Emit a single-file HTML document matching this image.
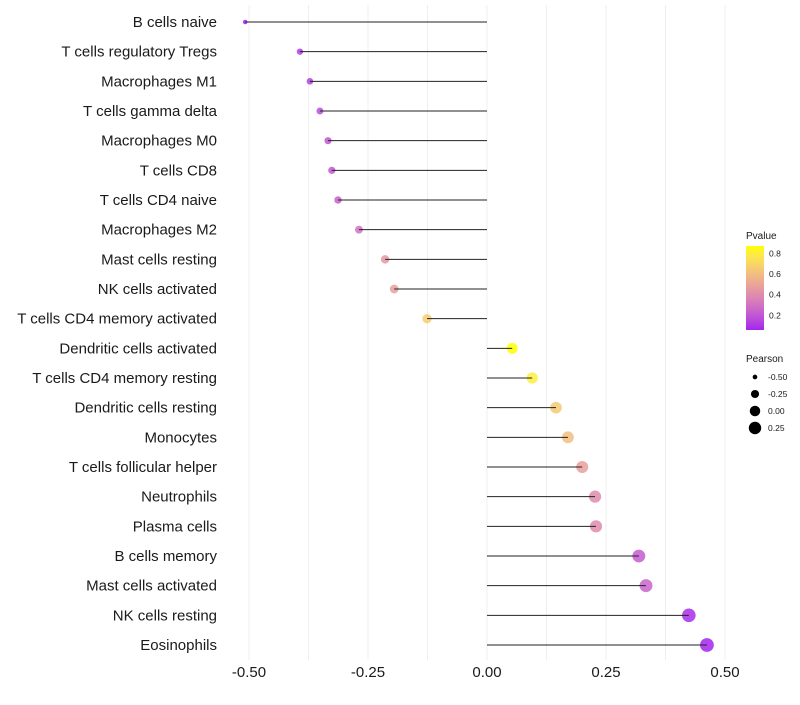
<!DOCTYPE html>
<html><head><meta charset="utf-8"><style>
body{margin:0;background:#fff;font-family:"Liberation Sans",sans-serif}
</style></head><body>
<svg id="c" width="800" height="700" xmlns="http://www.w3.org/2000/svg"></svg>
<script>
const categories=["B cells naive","T cells regulatory  Tregs","Macrophages M1","T cells gamma delta","Macrophages M0","T cells CD8","T cells CD4 naive","Macrophages M2","Mast cells resting","NK cells activated","T cells CD4 memory activated","Dendritic cells activated","T cells CD4 memory resting","Dendritic cells resting","Monocytes","T cells follicular helper","Neutrophils","Plasma cells","B cells memory","Mast cells activated","NK cells resting","Eosinophils"];
const pearson=[-0.508,-0.393,-0.372,-0.351,-0.334,-0.326,-0.313,-0.269,-0.214,-0.195,-0.126,0.053,0.095,0.145,0.170,0.200,0.227,0.229,0.319,0.334,0.424,0.462];
const pvalue=[0.05,0.12,0.13,0.17,0.2,0.2,0.23,0.3,0.45,0.48,0.67,0.87,0.8,0.65,0.6,0.48,0.4,0.4,0.22,0.25,0.08,0.06];
const xTicks=[-0.5,-0.25,0,0.25,0.5];
const xTickLabels=["-0.50","-0.25","0.00","0.25","0.50"];
const colorTicks=[0.2,0.4,0.6,0.8];
const sizeLegend=[-0.5,-0.25,0,0.25];
const sizeLegendLabels=["-0.50","-0.25","0.00","0.25"];

const svg=document.getElementById('c');
const NS="http://www.w3.org/2000/svg";
const x0=487,ppu=476;
const xs=v=>x0+v*ppu;
const ys=i=>22+i*29.667;
const rs=v=>Math.sqrt(5+(v+0.51)*44);
function mk(t,a,p){const e=document.createElementNS(NS,t);for(const k in a)e.setAttribute(k,a[k]);(p||svg).appendChild(e);return e;}
function toLab(r,g,b){const f=c=>{c/=255;return c>0.04045?Math.pow((c+0.055)/1.055,2.4):c/12.92};r=f(r);g=f(g);b=f(b);
let X=(r*0.4124+g*0.3576+b*0.1805)/0.95047,Y=r*0.2126+g*0.7152+b*0.0722,Z=(r*0.0193+g*0.1192+b*0.9505)/1.08883;
const h=t=>t>0.008856?Math.cbrt(t):7.787*t+16/116;X=h(X);Y=h(Y);Z=h(Z);return[116*Y-16,500*(X-Y),200*(Y-Z)];}
function fromLab(L,a,b){let Y=(L+16)/116,X=a/500+Y,Z=Y-b/200;const h=t=>t*t*t>0.008856?t*t*t:(t-16/116)/7.787;
X=h(X)*0.95047;Y=h(Y);Z=h(Z)*1.08883;let r=X*3.2406+Y*-1.5372+Z*-0.4986,g=X*-0.9689+Y*1.8758+Z*0.0415,bb=X*0.0557+Y*-0.2040+Z*1.0570;
const f=c=>{c=c>0.0031308?1.055*Math.pow(c,1/2.4)-0.055:12.92*c;return Math.round(Math.max(0,Math.min(1,c))*255)};return`rgb(${f(r)},${f(g)},${f(bb)})`;}
const lo=toLab(160,32,240),hi=toLab(255,255,0),pmin=0.05,pmax=0.87;
const col=p=>{const t=Math.max(0,Math.min(1,(p-pmin)/(pmax-pmin)));return fromLab(lo[0]+(hi[0]-lo[0])*t,lo[1]+(hi[1]-lo[1])*t,lo[2]+(hi[2]-lo[2])*t);};

for(let v=-0.5;v<=0.5001;v+=0.125){const g=mk('line',{x1:xs(v),x2:xs(v),y1:5,y2:660,stroke:'#efefef','stroke-width':1});
}
xTicks.forEach((v,i)=>{const t=mk('text',{x:xs(v),y:677,'text-anchor':'middle','font-size':15,fill:'#1a1a1a'});t.textContent=xTickLabels[i];
});
categories.forEach((c,i)=>{
const y=ys(i);
const t=mk('text',{x:217,y:y+5,'text-anchor':'end','font-size':15,fill:'#1a1a1a'});t.textContent=c;

const p=mk('circle',{cx:xs(pearson[i]),cy:y,r:rs(pearson[i]),fill:col(pvalue[i]),'fill-opacity':0.85});

const l=mk('line',{x1:xs(0),x2:xs(pearson[i]),y1:y,y2:y,stroke:'#222','stroke-width':1});

});
const lt=mk('text',{x:746,y:239,'font-size':10,fill:'#1a1a1a'});lt.textContent='Pvalue';

const defs=mk('defs',{});const gr=mk('linearGradient',{id:'gb',x1:0,y1:1,x2:0,y2:0},defs);
for(let k=0;k<=10;k++){mk('stop',{offset:k/10,'stop-color':col(0.06+(0.87-0.06)*k/10)},gr);}
const cb=mk('rect',{x:746,y:246,width:18,height:84,fill:'url(#gb)'});

const cy=p=>330-(p-0.06)/(0.87-0.06)*84;
colorTicks.forEach(p=>{const t=mk('text',{x:769,y:cy(p)+3,'font-size':8.5,fill:'#1a1a1a'});t.textContent=p.toFixed(1);
});
const st=mk('text',{x:746,y:362,'font-size':10,fill:'#1a1a1a'});st.textContent='Pearson';

sizeLegend.forEach((v,i)=>{const y=377+i*17;
const c=mk('circle',{cx:755,cy:y,r:rs(v),fill:'#000'});
const t=mk('text',{x:768,y:y+3,'font-size':8.5,fill:'#1a1a1a'});t.textContent=sizeLegendLabels[i];
});
</script>
</body></html>
